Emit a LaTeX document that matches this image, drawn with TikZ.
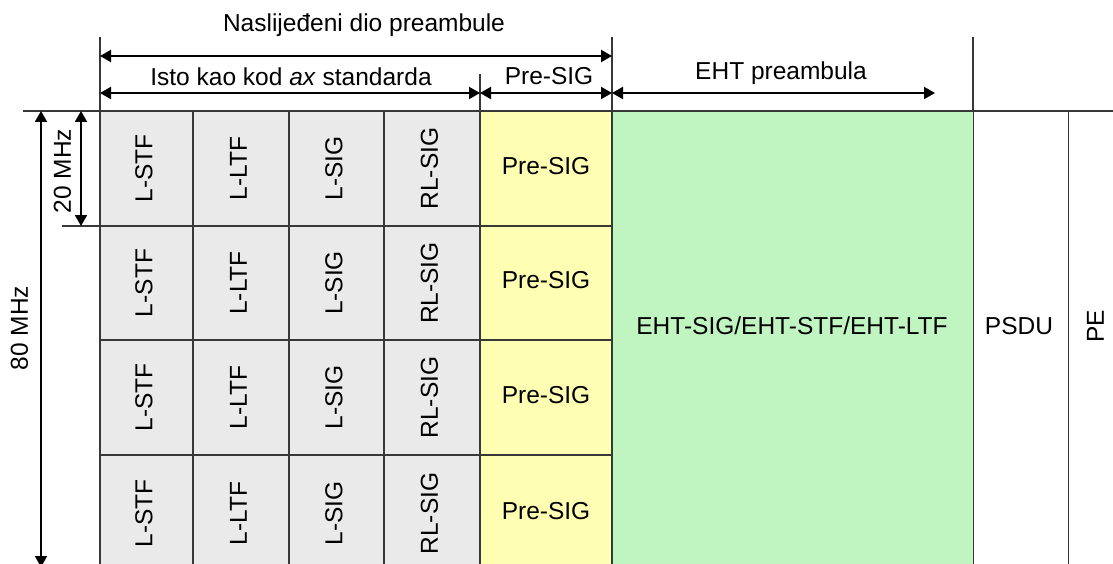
\documentclass[tikz,border=0pt]{standalone}
\usepackage{fontspec}
\setmainfont{Liberation Sans}
\usepackage{graphicx}
\usetikzlibrary{arrows.meta}
\definecolor{cellgray}{HTML}{EAEAEA}
\definecolor{cellyellow}{HTML}{FFFFB4}
\definecolor{cellgreen}{HTML}{C0F4C0}
\definecolor{gridline}{HTML}{383838}
\tikzset{
  every node/.style={font=\fontsize{24.5}{29}\selectfont, inner sep=0pt},
  gcell/.style={draw=gridline, line width=1.3pt, fill=cellgray},
  ycell/.style={draw=gridline, line width=1.3pt, fill=cellyellow},
  greencell/.style={draw=gridline, line width=1.3pt, fill=cellgreen},
  wcell/.style={draw=gridline, line width=1.3pt, fill=white},
  guide/.style={draw=gridline, line width=1.3pt},
  dim/.style={{Triangle[length=11pt,width=12pt]}-{Triangle[length=11pt,width=12pt]}, line width=2pt, black},
  lbl/.style={text=black}
}
\begin{document}
\begin{tikzpicture}[x=1pt,y=-1pt]
\useasboundingbox (0,0) rectangle (1113,564);
\clip (0,0) rectangle (1113,564);
% grid cells
\foreach \r/\ya/\yb in {1/111/226,2/226/340,3/340/455,4/455/572} {
  \foreach \c/\xa/\xb/\t in {1/100/193/L-STF,2/193/289/L-LTF,3/289/384/L-SIG,4/384/480/RL-SIG} {
    \node[gcell, minimum width={(\xb-\xa)*1pt}, minimum height={(\yb-\ya)*1pt}]
      (c\r\c) at ({(\xa+\xb)/2},{(\ya+\yb)/2}) {\rotatebox{90}{\strut \t}};
  }
  \node[ycell, minimum width=132pt, minimum height={(\yb-\ya)*1pt}]
    (p\r) at (546,{(\ya+\yb)/2}) {\strut Pre-SIG};
}
\node[greencell, minimum width=361pt, minimum height=461pt, anchor=north west] (eht) at (612,111) {};
\node[wcell, minimum width=95pt, minimum height=461pt, anchor=north west] (psdu) at (973,111) {};
\node[wcell, minimum width=60pt, minimum height=461pt, anchor=north west] (pe) at (1068,111) {};
\node[lbl] (ehttxt) at (792,329) {\strut EHT-SIG/EHT-STF/EHT-LTF};
\node[lbl] (psdutxt) at (1019,329) {\strut PSDU};
\node[lbl, rotate=90] (petxt) at (1098,326) {\strut PE};
% guide lines
\coordinate (t0) at (100,37);
\coordinate (t1) at (612,37);
\coordinate (t2) at (973,37);
\coordinate (t3) at (480,74);
\coordinate (b0) at (100,111);
\coordinate (b1) at (612,111);
\coordinate (b2) at (973,111);
\coordinate (b3) at (480,111);
\coordinate (hl) at (23,111);
\coordinate (hr) at (1113,111);
\coordinate (ml) at (62,226);
\coordinate (mr) at (100,226);
\draw[guide] (t0) -- (b0);
\draw[guide] (t1) -- (b1);
\draw[guide] (t2) -- (b2);
\draw[guide] (t3) -- (b3);
\draw[guide] (hl) -- (hr);
\draw[guide] (ml) -- (mr);
% dimension arrows
\coordinate (n1) at (100,56);
\coordinate (n2) at (612,56);
\coordinate (i1) at (100,93);
\coordinate (i2) at (480,93);
\coordinate (i3) at (612,93);
\coordinate (e2) at (935,93);
\coordinate (f1) at (81,111);
\coordinate (f2) at (81,226);
\coordinate (g1) at (41,111);
\coordinate (g2) at (41,567);
\draw[dim] (n1) -- (n2);
\draw[dim] (i1) -- (i2);
\draw[dim] (i2) -- (i3);
\draw[dim] (i3) -- (e2);
\draw[dim] (f1) -- (f2);
\draw[dim] (g1) -- (g2);
% labels
\node[lbl, anchor=base] (naslov) at (364,32) {Naslijeđeni dio preambule};
\node[lbl, anchor=base] (isto) at (291,86) {Isto kao kod \textit{ax} standarda};
\node[lbl, anchor=base] (presig) at (549,85) {Pre-SIG};
\node[lbl, anchor=base] (ehtpre) at (781,80) {EHT preambula};
\node[lbl, rotate=90] (mhz20) at (65,171) {\strut 20 MHz};
\node[lbl, rotate=90] (mhz80) at (22,328) {\strut 80 MHz};
\end{tikzpicture}
\end{document}
